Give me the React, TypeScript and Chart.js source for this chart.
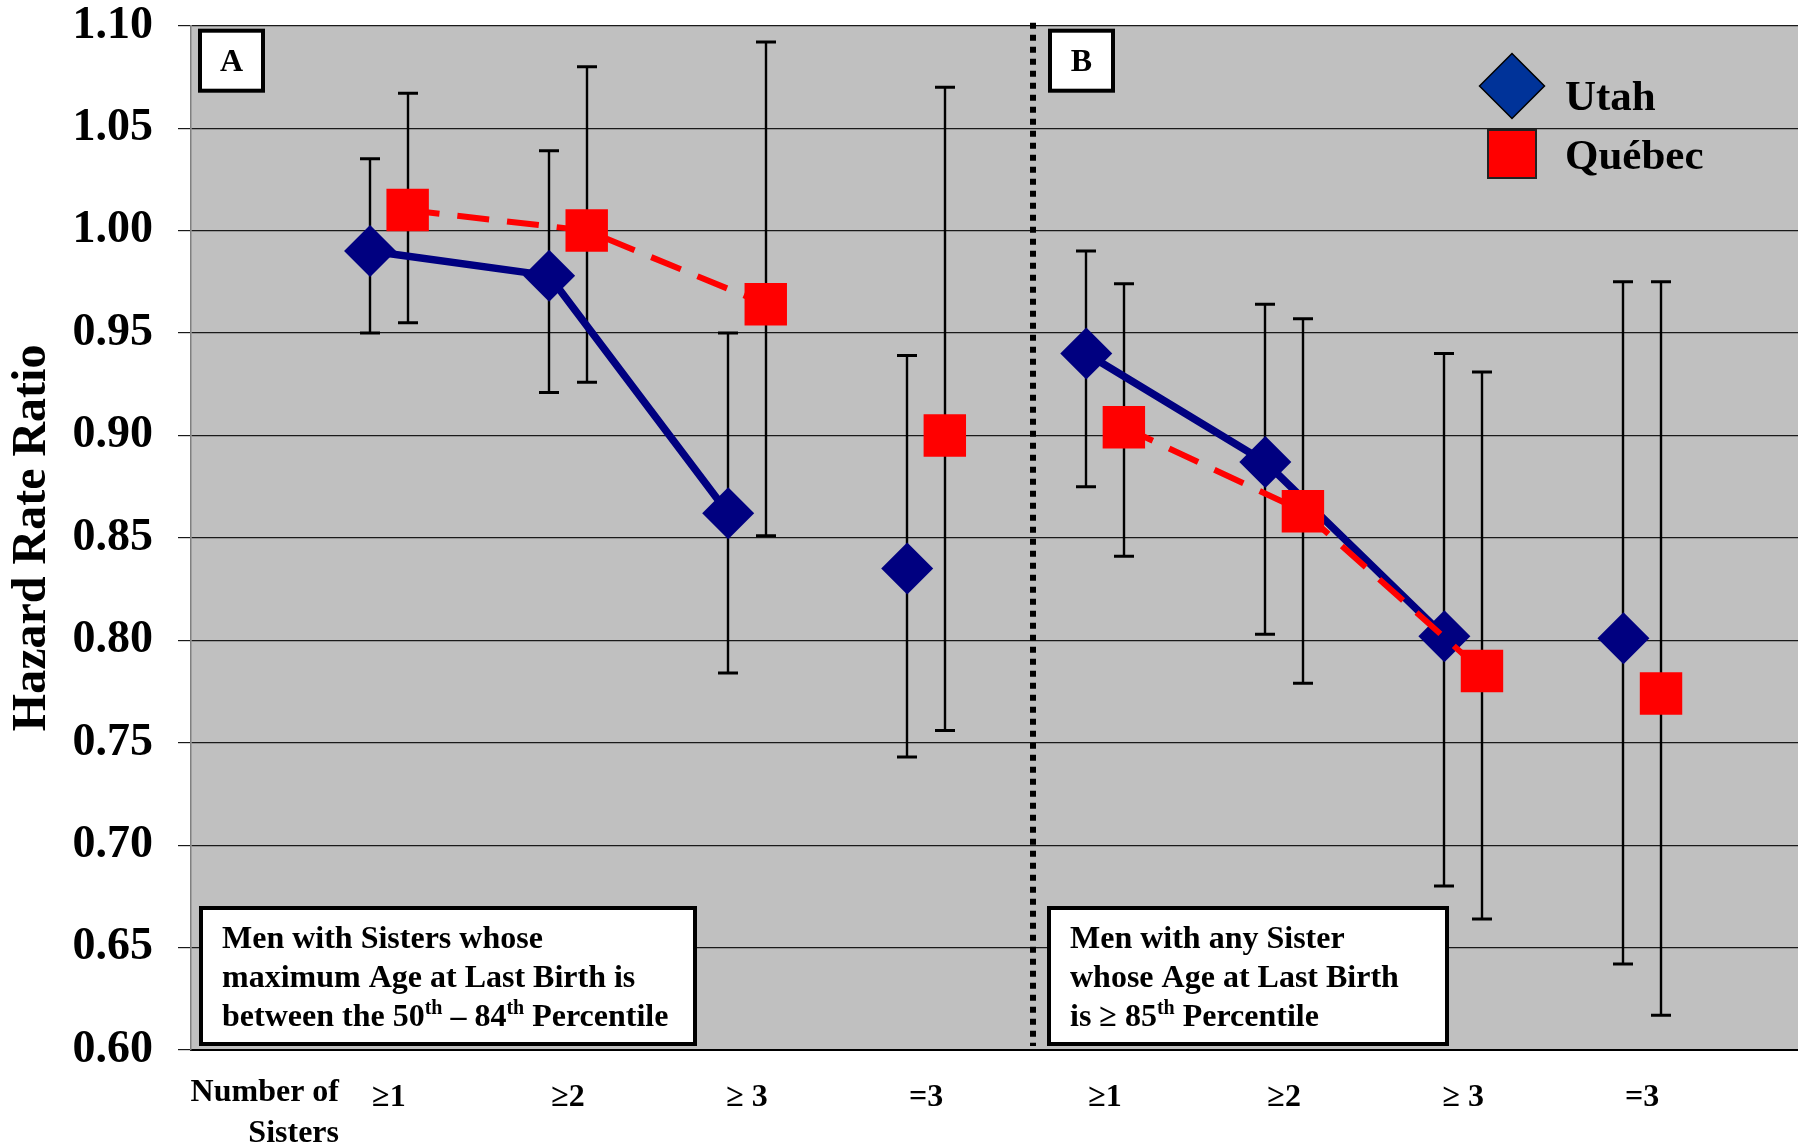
import React, { useEffect, useRef } from 'react';
import { Chart, registerables } from 'chart.js';

Chart.register(...registerables);

// ---------- data ----------
const categories = ['≥1', '≥2', '≥ 3', '=3', '≥1', '≥2', '≥ 3', '=3'];
const utahHR = [0.990, 0.978, 0.862, 0.835, 0.940, 0.887, 0.802, 0.801];
const utahLow = [0.950, 0.921, 0.784, 0.743, 0.875, 0.803, 0.680, 0.642];
const utahHigh = [1.035, 1.039, 0.950, 0.939, 0.990, 0.964, 0.940, 0.975];
const quebecHR = [1.010, 1.000, 0.964, 0.900, 0.904, 0.863, 0.785, 0.774];
const quebecLow = [0.955, 0.926, 0.851, 0.756, 0.841, 0.779, 0.664, 0.617];
const quebecHigh = [1.067, 1.080, 1.092, 1.070, 0.974, 0.957, 0.931, 0.975];
// whether the point belongs to the connected trend line of its panel
const trendLinked = [true, true, true, false, true, true, true, false];
const yTicks = [0.6, 0.65, 0.7, 0.75, 0.8, 0.85, 0.9, 0.95, 1.0, 1.05, 1.1];
const seriesNames = ['Utah', 'Québec'];
const panelLabels = ['A', 'B'];
const panelNoteA = [
  [{ t: 'Men with Sisters whose' }],
  [{ t: 'maximum Age at Last Birth is' }],
  [{ t: 'between the 50' }, { t: 'th', sup: true }, { t: ' – 84' }, { t: 'th', sup: true }, { t: ' Percentile' }],
];
const panelNoteB = [
  [{ t: 'Men with any Sister' }],
  [{ t: 'whose Age at Last Birth' }],
  [{ t: 'is ≥ 85' }, { t: 'th', sup: true }, { t: ' Percentile' }],
];
const xAxisCaption = ['Number of', 'Sisters'];
const yAxisTitle = 'Hazard Rate Ratio';

// ---------- styling ----------
const SERIF = '"Liberation Serif", "Times New Roman", serif';
const UTAH = '#000080';
const QUEBEC = '#FF0000';
const OFF = 0.105; // series side offset within a group (category units)
const DIVIDER_X = 3.6; // panel divider position (category units)

type Part = { t: string; sup?: boolean };

function drawRich(ctx: CanvasRenderingContext2D, parts: Part[], x: number, y: number, size: number) {
  let cx = x;
  for (const p of parts) {
    if (p.sup) {
      ctx.font = `bold ${Math.round(size * 0.62)}px ${SERIF}`;
      ctx.fillText(p.t, cx, y - size * 0.36);
    } else {
      ctx.font = `bold ${size}px ${SERIF}`;
      ctx.fillText(p.t, cx, y);
    }
    cx += ctx.measureText(p.t).width;
  }
}

const bgPlugin = {
  id: 'plotBg',
  beforeDraw(chart: any) {
    const { ctx, chartArea: a } = chart;
    ctx.save();
    ctx.fillStyle = '#C0C0C0';
    ctx.fillRect(a.left, a.top, a.right - a.left, a.bottom - a.top);
    ctx.restore();
  },
};

const errorBarPlugin = {
  id: 'errorBars',
  beforeDatasetsDraw(chart: any) {
    const { ctx, scales } = chart;
    const x = scales.x;
    const y = scales.y;
    const series = [
      { lo: utahLow, hi: utahHigh, off: -OFF },
      { lo: quebecLow, hi: quebecHigh, off: OFF },
    ];
    ctx.save();
    ctx.strokeStyle = '#000';
    series.forEach((s) => {
      s.lo.forEach((lo, i) => {
        const px = Math.round(x.getPixelForValue(i + s.off));
        const yl = y.getPixelForValue(lo);
        const yh = y.getPixelForValue(s.hi[i]);
        ctx.lineWidth = 2.4;
        ctx.beginPath();
        ctx.moveTo(px, yl);
        ctx.lineTo(px, yh);
        ctx.stroke();
        ctx.lineWidth = 3;
        ctx.beginPath();
        ctx.moveTo(px - 10, yl);
        ctx.lineTo(px + 10, yl);
        ctx.moveTo(px - 10, yh);
        ctx.lineTo(px + 10, yh);
        ctx.stroke();
      });
    });
    ctx.restore();
  },
};

const overlayPlugin = {
  id: 'overlay',
  afterDraw(chart: any) {
    const { ctx, chartArea: a, scales } = chart;
    const x = scales.x;
    ctx.save();

    // dotted panel divider
    const dx = Math.round(x.getPixelForValue(DIVIDER_X));
    ctx.strokeStyle = '#000';
    ctx.lineWidth = 6;
    ctx.setLineDash([6, 6]);
    ctx.beginPath();
    ctx.moveTo(dx, a.top - 3);
    ctx.lineTo(dx, a.bottom - 4);
    ctx.stroke();
    ctx.setLineDash([]);

    // panel letter boxes
    const letterBoxes = [a.left + 9, dx + 17];
    letterBoxes.forEach((bx, i) => {
      ctx.fillStyle = '#fff';
      ctx.fillRect(bx, a.top + 5, 63, 60);
      ctx.strokeStyle = '#000';
      ctx.lineWidth = 4;
      ctx.strokeRect(bx, a.top + 5, 63, 60);
      ctx.fillStyle = '#000';
      ctx.font = `bold 32px ${SERIF}`;
      ctx.textAlign = 'center';
      ctx.textBaseline = 'middle';
      ctx.fillText(panelLabels[i], bx + 31.5, a.top + 37);
    });

    // note boxes
    const notes = [
      { bx: a.left + 10, w: 494, lines: panelNoteA },
      { bx: dx + 16, w: 398, lines: panelNoteB },
    ];
    ctx.textAlign = 'left';
    ctx.textBaseline = 'alphabetic';
    notes.forEach((n) => {
      const by = a.bottom - 142;
      ctx.fillStyle = '#fff';
      ctx.fillRect(n.bx, by, n.w, 136);
      ctx.strokeStyle = '#000';
      ctx.lineWidth = 4;
      ctx.strokeRect(n.bx, by, n.w, 136);
      ctx.fillStyle = '#000';
      n.lines.forEach((ln, j) => {
        drawRich(ctx, ln as Part[], n.bx + 21, by + 40 + j * 39, 32);
      });
    });

    // legend
    const lx = 1512;
    const ly = 86;
    ctx.fillStyle = '#003399';
    ctx.strokeStyle = '#000';
    ctx.lineWidth = 1.5;
    ctx.beginPath();
    ctx.moveTo(lx - 32.5, ly);
    ctx.lineTo(lx, ly - 32.5);
    ctx.lineTo(lx + 32.5, ly);
    ctx.lineTo(lx, ly + 32.5);
    ctx.closePath();
    ctx.fill();
    ctx.stroke();
    ctx.fillStyle = QUEBEC;
    ctx.fillRect(1488, 130, 48, 48);
    ctx.strokeStyle = '#222';
    ctx.lineWidth = 2;
    ctx.strokeRect(1488, 130, 48, 48);
    ctx.fillStyle = '#000';
    ctx.font = `bold 43px ${SERIF}`;
    ctx.textAlign = 'left';
    ctx.fillText(seriesNames[0], 1565, 110);
    ctx.fillText(seriesNames[1], 1565, 169);

    // x-axis caption
    ctx.font = `bold 32px ${SERIF}`;
    ctx.textAlign = 'right';
    ctx.fillText(xAxisCaption[0], 339, 1101);
    ctx.fillText(xAxisCaption[1], 339, 1142);

    ctx.restore();
  },
};

function linkedSegment(ctx: any) {
  const i0 = ctx.p0DataIndex;
  const i1 = ctx.p1DataIndex;
  return trendLinked[i0] && trendLinked[i1] && i1 - i0 === 1;
}

export default function App() {
  const ref = useRef<HTMLCanvasElement | null>(null);

  useEffect(() => {
    if (!ref.current) return;
    const pts = (vals: number[], off: number) => vals.map((v, i) => ({ x: i + off, y: v }));
    const chart = new Chart(ref.current, {
      type: 'line',
      data: {
        datasets: [
          {
            label: seriesNames[0],
            data: pts(utahHR, -OFF),
            borderColor: UTAH,
            borderWidth: 7.5,
            tension: 0,
            pointStyle: 'rectRot',
            pointRadius: 26,
            pointHoverRadius: 26,
            pointBackgroundColor: UTAH,
            pointBorderColor: UTAH,
            pointBorderWidth: 0,
            order: 1,
            segment: {
              borderColor: (c: any) => (linkedSegment(c) ? UTAH : 'rgba(0,0,0,0)'),
            },
          } as any,
          {
            label: seriesNames[1],
            data: pts(quebecHR, OFF),
            borderColor: QUEBEC,
            borderWidth: 6,
            borderDash: [32, 18],
            tension: 0,
            pointStyle: 'rect',
            pointRadius: 30,
            pointHoverRadius: 30,
            pointBackgroundColor: QUEBEC,
            pointBorderColor: QUEBEC,
            pointBorderWidth: 0,
            order: 0,
            segment: {
              borderColor: (c: any) => (linkedSegment(c) ? QUEBEC : 'rgba(0,0,0,0)'),
            },
          } as any,
        ],
      },
      options: {
        responsive: false,
        animation: false,
        devicePixelRatio: 1,
        events: [],
        layout: { padding: 0, autoPadding: false },
        plugins: {
          legend: { display: false },
          tooltip: { enabled: false },
        },
        scales: {
          x: {
            type: 'linear',
            min: -1.105,
            max: 7.87,
            grid: { display: false },
            border: { display: true, color: '#000', width: 2 },
            afterBuildTicks: (s: any) => {
              s.ticks = categories.map((_, i) => ({ value: i }));
            },
            afterFit: (s: any) => {
              s.height = 97;
              s.paddingLeft = 0;
              s.paddingRight = 0;
            },
            ticks: {
              autoSkip: false,
              maxRotation: 0,
              minRotation: 0,
              padding: 21,
              color: '#000',
              font: { family: SERIF, size: 32, weight: 'bold' },
              callback: (v: any) => categories[Math.round(Number(v))] ?? '',
            },
          },
          y: {
            type: 'linear',
            min: 0.6,
            max: 1.1,
            afterBuildTicks: (s: any) => {
              s.ticks = yTicks.map((v) => ({ value: v }));
            },
            afterFit: (s: any) => {
              s.width = 191;
              s.paddingTop = 25.7;
              s.paddingBottom = 0;
            },
            grid: {
              color: '#1a1a1a',
              lineWidth: 1.2,
              drawTicks: true,
              tickLength: 13,
              tickColor: '#1a1a1a',
            },
            border: { display: true, color: '#808080', width: 1.5 },
            title: {
              display: true,
              text: yAxisTitle,
              color: '#000',
              font: { family: SERIF, size: 48, weight: 'bold', lineHeight: 1.2 },
              padding: { top: 4, bottom: 0 },
            },
            ticks: {
              padding: 25,
              color: '#000',
              font: { family: SERIF, size: 46, weight: 'bold', lineHeight: 1.12 },
              callback: (v: any) => Number(v).toFixed(2),
            },
          },
        },
      },
      plugins: [bgPlugin, errorBarPlugin, overlayPlugin],
    });
    return () => chart.destroy();
  }, []);

  return (
    <div style={{ position: 'absolute', left: 0, top: 0, width: 1798, height: 1147, background: '#fff' }}>
      <canvas ref={ref} width={1798} height={1147} style={{ width: 1798, height: 1147, display: 'block' }} />
    </div>
  );
}
